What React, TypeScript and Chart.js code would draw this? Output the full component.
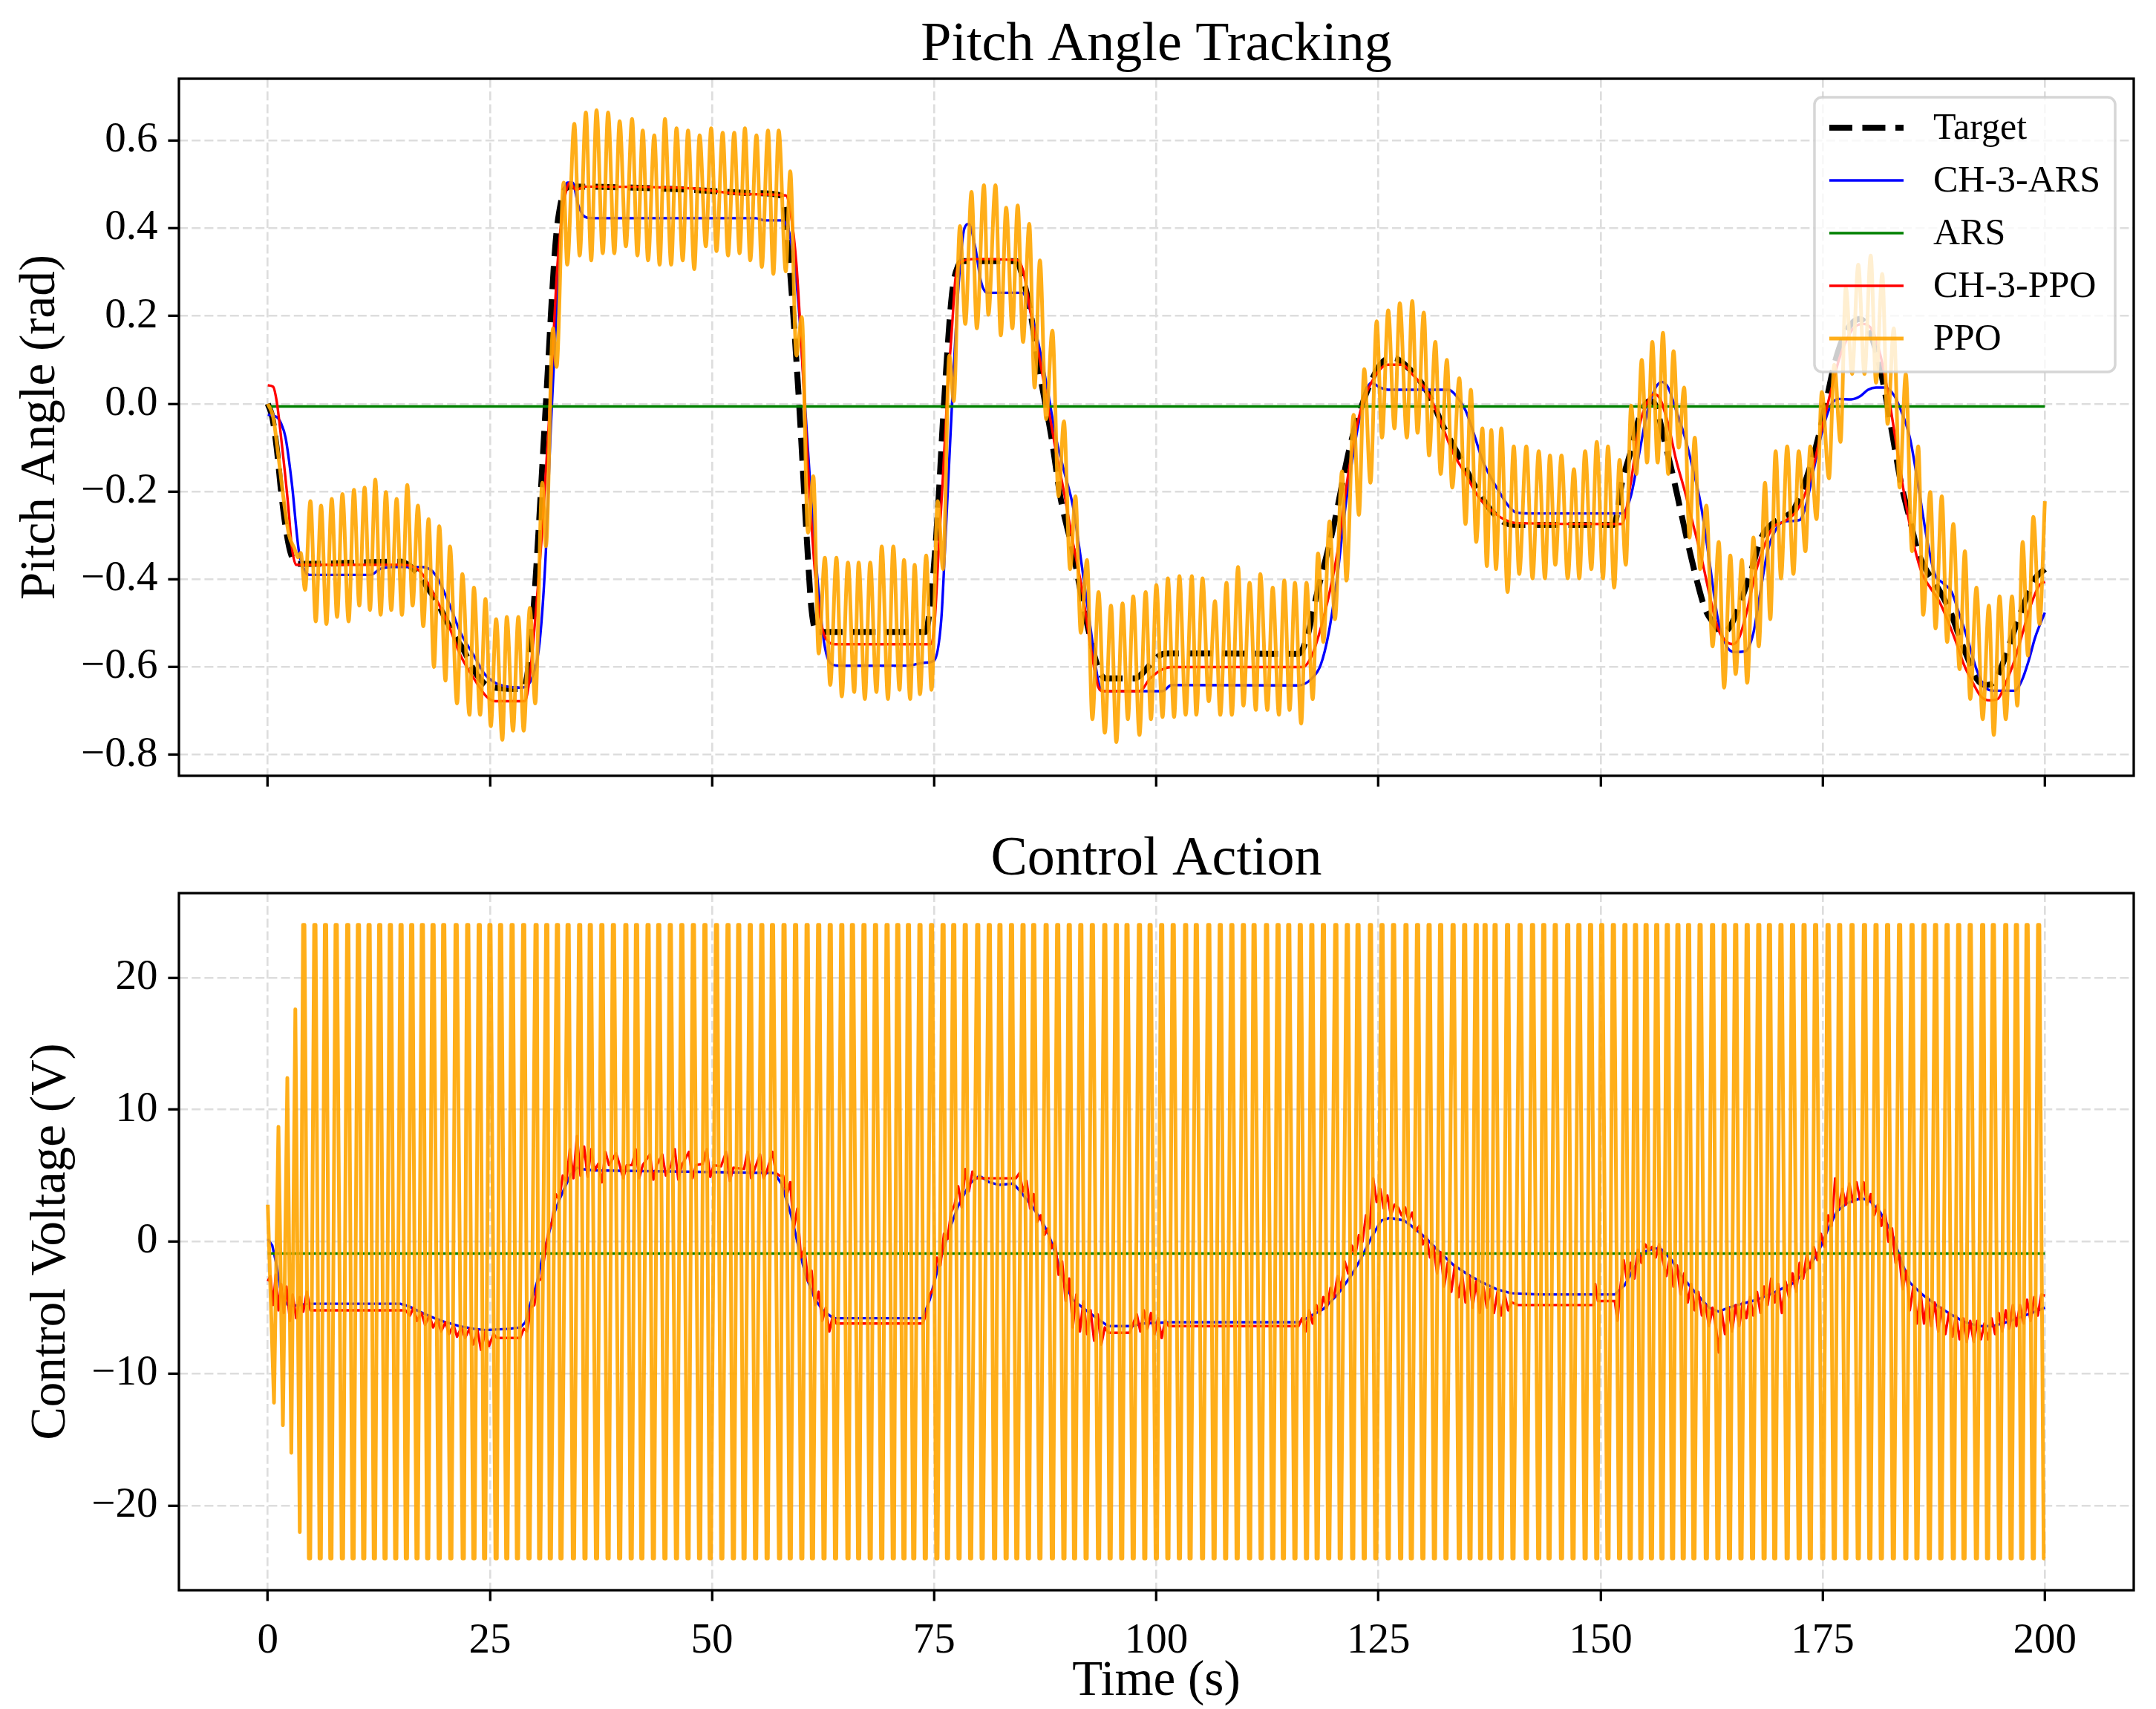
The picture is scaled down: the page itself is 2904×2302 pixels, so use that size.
import React, { useEffect, useRef } from 'react';
import { Chart, registerables } from 'chart.js';

Chart.register(...registerables);

type Pt = [number, number];

const FONT = '"Liberation Serif", "Times New Roman", Times, serif';

const timeTicks = [0, 25, 50, 75, 100, 125, 150, 175, 200];
const pitchTicks = [-0.8, -0.6, -0.4, -0.2, 0, 0.2, 0.4, 0.6];
const voltageTicks = [-20, -10, 0, 10, 20];

const targetPitch: Pt[] = [
  [0, 0], [0.5, -0.03], [1, -0.1], [1.5, -0.2], [2, -0.28], [2.5, -0.335], [3, -0.36], [3.5, -0.365],
  [15, -0.36], [16, -0.37], [17, -0.39], [18, -0.42], [19, -0.45], [20, -0.49], [21, -0.53], [22, -0.56],
  [23, -0.6], [24, -0.63], [25, -0.645], [28.6, -0.65], [29.1, -0.63], [29.6, -0.55], [30.2, -0.38],
  [31.3, 0], [32.4, 0.37], [33.0, 0.46], [33.5, 0.49], [34.2, 0.495], [45, 0.49], [50, 0.485], [55, 0.48],
  [57.7, 0.475], [58.2, 0.44], [58.9, 0.27], [59.8, 0], [60.7, -0.32], [61.2, -0.47], [61.8, -0.52],
  [74, -0.52], [74.5, -0.47], [75.3, -0.28], [76.1, 0], [77, 0.25], [77.7, 0.315], [78.3, 0.325],
  [84.3, 0.325], [84.8, 0.3], [85.8, 0.213], [86.8, 0.079], [88.2, -0.077], [89.2, -0.212], [90.6, -0.336],
  [92.1, -0.491], [93.5, -0.605], [94.3, -0.626], [97.6, -0.626], [98.4, -0.615], [99.5, -0.59],
  [100.5, -0.572], [101.3, -0.569], [116, -0.57], [117, -0.53], [118, -0.44], [119.9, -0.284],
  [121.8, -0.097], [123.3, 0.006], [125.2, 0.089], [126.6, 0.105], [128.5, 0.079], [130.5, 0.027],
  [132.4, -0.056], [134.3, -0.128], [136.2, -0.2], [138.1, -0.253], [139.6, -0.274], [141, -0.276],
  [151.5, -0.276], [152.4, -0.18], [153.4, -0.108], [154.3, -0.035], [155.5, 0.006], [156.2, -0.004],
  [157.1, -0.077], [158.1, -0.16], [159, -0.243], [159.9, -0.325], [160.9, -0.408], [161.8, -0.47],
  [162.8, -0.502], [163.7, -0.522], [164.6, -0.507], [165.6, -0.46], [167, -0.377], [168.1, -0.305],
  [169.3, -0.274], [170.7, -0.258], [171.7, -0.243], [172.6, -0.201], [173.5, -0.149], [174.5, -0.077],
  [175.4, 0.006], [176.3, 0.089], [177.3, 0.151], [178.2, 0.182], [179.2, 0.193], [180.1, 0.172],
  [181, 0.12], [182, 0.027], [182.9, -0.077], [183.8, -0.18], [184.8, -0.263], [185.7, -0.336],
  [186.6, -0.377], [187.6, -0.408], [188.5, -0.439], [189.5, -0.481], [190.4, -0.533], [191.4, -0.584],
  [192.3, -0.626], [193.3, -0.641], [194.2, -0.636], [195.2, -0.595], [196.1, -0.543], [197, -0.491],
  [198, -0.439], [198.9, -0.398], [200, -0.377],
];

const ch3ArsPitch: Pt[] = [
  [0, -0.025], [1, -0.03], [1.5, -0.045], [2, -0.077], [2.7, -0.18], [3.5, -0.336], [4.2, -0.382],
  [4.7, -0.39], [11.6, -0.39], [12.6, -0.377], [14, -0.372], [17.4, -0.372], [18.8, -0.388], [20.3, -0.45],
  [21.7, -0.522], [23.2, -0.574], [24.4, -0.616], [25.6, -0.636], [27, -0.645], [28.5, -0.647],
  [29.9, -0.616], [30.6, -0.543], [31.3, -0.336], [31.8, -0.077], [32.3, 0.13], [32.8, 0.338],
  [33.3, 0.473], [33.75, 0.504], [34.3, 0.504], [34.95, 0.452], [35.7, 0.426], [36.6, 0.423],
  [54.9, 0.423], [55.9, 0.418], [57.8, 0.418], [58.8, 0.38], [59.7, 0.234], [60.7, -0.077],
  [61.6, -0.336], [62.6, -0.543], [63.6, -0.595], [64.5, -0.597], [71.7, -0.597], [74.1, -0.59],
  [75, -0.585], [75.8, -0.491], [76.2, -0.336], [76.7, -0.128], [77.2, 0.079], [77.8, 0.286],
  [78.4, 0.4], [78.9, 0.41], [79.6, 0.359], [80.3, 0.276], [81, 0.253], [84.9, 0.253], [85.8, 0.213],
  [86.8, 0.131], [87.8, 0.027], [88.7, -0.077], [89.7, -0.16], [90.6, -0.232], [91.6, -0.367],
  [92.6, -0.512], [93.5, -0.636], [94, -0.655], [100.7, -0.655], [101.7, -0.641], [116, -0.642],
  [117.5, -0.626], [118.5, -0.595], [119.4, -0.522], [120.4, -0.388], [121.3, -0.232], [122.3, -0.097],
  [123.3, 0.006], [124.2, 0.048], [125.2, 0.037], [126.1, 0.032], [132.9, 0.032], [133.8, 0.017],
  [134.8, -0.015], [135.7, -0.066], [136.7, -0.128], [137.7, -0.17], [138.6, -0.201], [139.6, -0.232],
  [140.5, -0.248], [142, -0.25], [152.4, -0.25], [153.4, -0.211], [154.3, -0.118], [155.3, -0.015],
  [156.2, 0.037], [156.9, 0.05], [157.6, 0.037], [158.5, -0.015], [159.5, -0.077], [160.4, -0.149],
  [161.3, -0.232], [162.3, -0.367], [163.2, -0.491], [164.2, -0.553], [165.1, -0.566], [166.3, -0.564],
  [167.2, -0.522], [167.9, -0.439], [168.8, -0.336], [169.8, -0.284], [170.7, -0.268], [172.4, -0.265],
  [173.1, -0.232], [174, -0.149], [174.9, -0.066], [175.9, -0.004], [176.8, 0.011], [178.2, 0.01],
  [179.2, 0.017], [180.1, 0.032], [181, 0.037], [182, 0.037], [183.1, 0.017], [183.8, -0.015],
  [184.8, -0.077], [185.7, -0.18], [186.7, -0.305], [187.6, -0.388], [188.5, -0.408], [189.5, -0.429],
  [190.4, -0.481], [191.4, -0.543], [192.3, -0.605], [193.3, -0.647], [194.2, -0.654], [196.6, -0.654],
  [197.4, -0.631], [198.2, -0.584], [198.9, -0.533], [200, -0.476],
];

const arsPitch: Pt[] = [[0, -0.006], [200, -0.006]];

const ch3PpoPitch: Pt[] = [
  [0, 0.042], [0.6, 0.039], [1, 0.006], [1.5, -0.077], [2.3, -0.232], [2.7, -0.325], [3.2, -0.367],
  [15, -0.367], [16.4, -0.372], [17.4, -0.388], [18.8, -0.439], [20.3, -0.502], [21.7, -0.574],
  [23.2, -0.626], [24.6, -0.667], [25.6, -0.678], [28.9, -0.678], [29.4, -0.636], [30.1, -0.491],
  [30.9, -0.284], [31.6, -0.056], [32.1, 0.131], [32.5, 0.286], [33, 0.41], [33.5, 0.478], [34, 0.504],
  [34.7, 0.488], [35.7, 0.495], [47.7, 0.491], [51, 0.483], [53.5, 0.478], [58.3, 0.475], [58.8, 0.441],
  [59.5, 0.317], [60.2, 0.079], [60.9, -0.18], [61.6, -0.388], [62.3, -0.502], [63.1, -0.543],
  [63.8, -0.548], [74.6, -0.548], [75, -0.512], [75.5, -0.336], [76, -0.16], [76.5, 0.027], [77, 0.172],
  [77.4, 0.286], [78.2, 0.325], [79.6, 0.33], [84.4, 0.327], [85.1, 0.296], [85.8, 0.213], [86.8, 0.11],
  [87.8, -0.004], [88.7, -0.108], [89.7, -0.211], [90.6, -0.315], [91.6, -0.419], [92.6, -0.553],
  [93.5, -0.647], [94, -0.655], [98.1, -0.655], [99.3, -0.626], [100.7, -0.605], [101.7, -0.6],
  [116.5, -0.6], [117.5, -0.574], [118.5, -0.512], [119.4, -0.439], [120.4, -0.336], [121.3, -0.201],
  [122.3, -0.077], [123.3, 0.006], [124.2, 0.048], [125.2, 0.079], [126.1, 0.089], [127.6, 0.089],
  [129, 0.063], [130.5, 0.027], [131.9, -0.035], [133.3, -0.108], [134.8, -0.16], [136.2, -0.211],
  [137.7, -0.243], [139.1, -0.263], [140.5, -0.272], [152.4, -0.274], [153.4, -0.18], [154.3, -0.056],
  [155.3, 0.006], [156, 0.022], [156.7, 0.011], [157.6, -0.046], [158.5, -0.128], [159.5, -0.201],
  [160.4, -0.274], [161.3, -0.346], [162.3, -0.439], [163.2, -0.512], [164.2, -0.543], [164.9, -0.548],
  [165.6, -0.533], [166.5, -0.47], [167.4, -0.388], [168.4, -0.325], [169.3, -0.284], [170.7, -0.268],
  [172.1, -0.243], [173.1, -0.201], [174, -0.139], [174.9, -0.056], [175.9, 0.027], [176.8, 0.099],
  [177.8, 0.151], [178.7, 0.177], [179.6, 0.182], [180.6, 0.167], [181.5, 0.11], [182.5, 0.006],
  [183.4, -0.108], [184.3, -0.222], [185.3, -0.325], [186.2, -0.388], [187.1, -0.419], [188.1, -0.45],
  [189, -0.491], [190, -0.543], [190.9, -0.595], [191.9, -0.636], [192.8, -0.667], [193.8, -0.676],
  [194.7, -0.673], [195.6, -0.636], [196.6, -0.584], [197.5, -0.522], [198.4, -0.46], [199.4, -0.413],
  [200, -0.406],
];

// PPO pitch: successive crests and troughs of the oscillation
const ppoPitch: Pt[] = [
  [0, 0.0], [0.6, -0.03], [1.2, -0.12], [1.8, -0.22], [2.4, -0.3], [3.0, -0.33], [3.4, -0.35], [3.7, -0.34],
  [4.2, -0.424], [4.8, -0.222], [5.4, -0.496], [6.0, -0.232], [6.6, -0.502], [7.2, -0.217], [7.8, -0.486],
  [8.4, -0.206], [9.1, -0.496], [9.7, -0.196], [10.3, -0.46], [10.9, -0.191], [11.5, -0.47], [12.1, -0.173],
  [12.7, -0.481], [13.3, -0.201], [13.9, -0.47], [14.5, -0.217], [15.1, -0.481], [15.7, -0.185], [16.3, -0.46],
  [16.9, -0.232], [17.5, -0.507], [18.1, -0.263], [18.7, -0.6], [19.3, -0.279], [20.0, -0.631], [20.5, -0.325],
  [21.3, -0.683], [21.9, -0.388], [22.7, -0.709], [23.2, -0.419], [23.9, -0.709], [24.5, -0.445], [25.1, -0.735],
  [25.7, -0.491], [26.4, -0.766], [26.9, -0.486], [27.6, -0.745], [28.2, -0.486], [28.8, -0.745], [29.5, -0.465],
  [30.1, -0.683], [30.9, -0.18], [31.3, -0.325], [32.1, 0.172], [32.5, 0.084], [33.3, 0.504], [33.7, 0.317],
  [34.5, 0.638], [35.1, 0.338], [35.8, 0.664], [36.4, 0.327], [37.0, 0.669], [37.7, 0.343], [38.3, 0.664],
  [39.0, 0.343], [39.6, 0.644], [40.3, 0.359], [41.0, 0.649], [41.6, 0.338], [42.2, 0.623], [42.8, 0.327],
  [43.5, 0.612], [44.1, 0.317], [44.7, 0.649], [45.4, 0.317], [46.0, 0.628], [46.7, 0.327], [47.3, 0.623],
  [48.0, 0.307], [48.6, 0.612], [49.3, 0.359], [49.9, 0.628], [50.5, 0.348], [51.2, 0.618], [51.8, 0.338],
  [52.5, 0.618], [53.1, 0.343], [53.7, 0.628], [54.3, 0.327], [55.0, 0.612], [55.6, 0.312], [56.3, 0.623],
  [56.9, 0.296], [57.5, 0.623], [58.3, 0.302], [58.8, 0.53], [59.5, 0.11], [60.1, 0.198], [60.8, -0.294],
  [61.4, -0.165], [62.0, -0.569], [62.7, -0.351], [63.3, -0.641], [64.0, -0.351], [64.6, -0.667], [65.3, -0.362],
  [66.0, -0.657], [66.5, -0.362], [67.2, -0.673], [67.8, -0.362], [68.5, -0.657], [69.1, -0.325], [69.8, -0.673],
  [70.4, -0.325], [71.1, -0.652], [71.6, -0.356], [72.3, -0.673], [72.8, -0.367], [73.4, -0.662], [74.1, -0.346],
  [74.7, -0.652], [75.4, -0.222], [76.0, -0.377], [76.7, 0.11], [77.2, 0.006], [77.9, 0.405], [78.5, 0.182],
  [79.2, 0.483], [79.8, 0.172], [80.6, 0.498], [81.1, 0.203], [81.9, 0.498], [82.5, 0.156], [83.1, 0.447],
  [83.8, 0.172], [84.4, 0.452], [85.0, 0.141], [85.7, 0.41], [86.3, 0.037], [86.9, 0.327], [87.6, -0.035],
  [88.3, 0.167], [89.0, -0.211], [89.6, -0.04], [90.3, -0.377], [90.9, -0.211], [91.5, -0.522], [92.2, -0.356],
  [92.8, -0.719], [93.5, -0.429], [94.2, -0.75], [94.9, -0.46], [95.5, -0.771], [96.2, -0.455], [96.8, -0.719],
  [97.4, -0.439], [98.1, -0.755], [98.8, -0.429], [99.4, -0.719], [100.0, -0.413], [100.7, -0.714], [101.3, -0.398],
  [102.0, -0.714], [102.6, -0.393], [103.3, -0.709], [104.0, -0.393], [104.5, -0.709], [105.2, -0.398], [105.9, -0.678],
  [106.6, -0.45], [107.2, -0.709], [107.9, -0.408], [108.5, -0.709], [109.2, -0.372], [109.8, -0.688], [110.5, -0.408],
  [111.2, -0.698], [111.7, -0.388], [112.5, -0.698], [113.1, -0.419], [113.8, -0.709], [114.4, -0.403], [115.0, -0.698],
  [115.6, -0.408], [116.3, -0.729], [116.9, -0.408], [117.6, -0.673], [118.2, -0.341], [118.8, -0.543], [119.5, -0.268],
  [120.1, -0.491], [120.9, -0.154], [121.4, -0.403], [122.2, -0.025], [122.8, -0.253], [123.4, 0.079], [124.1, -0.18],
  [124.8, 0.188], [125.4, -0.077], [126.1, 0.213], [126.8, -0.056], [127.4, 0.229], [128.2, -0.077], [128.8, 0.234],
  [129.4, -0.066], [130.1, 0.208], [130.7, -0.118], [131.4, 0.141], [132.0, -0.16], [132.7, 0.1], [133.3, -0.191],
  [134.1, 0.058], [134.8, -0.274], [135.4, 0.032], [136.0, -0.315], [136.7, -0.056], [137.2, -0.37], [137.7, -0.06],
  [138.23, -0.377], [138.83, -0.056], [139.53, -0.429], [140.23, -0.097], [140.84, -0.388], [141.64, -0.097],
  [142.34, -0.398], [143.04, -0.108], [143.74, -0.398], [144.3, -0.118], [144.9, -0.367], [145.6, -0.118],
  [146.3, -0.398], [147.0, -0.149], [147.6, -0.398], [148.26, -0.108], [148.96, -0.377], [149.57, -0.087],
  [150.27, -0.398], [150.83, -0.097], [151.53, -0.419], [152.14, -0.128], [152.84, -0.367], [153.44, -0.004],
  [154.03, -0.16], [154.63, 0.1], [155.23, -0.134], [155.82, 0.141], [156.42, -0.134], [157.02, 0.162],
  [157.61, -0.16], [158.21, 0.12], [158.8, -0.1], [159.4, 0.037], [160.0, -0.305], [160.6, -0.077], [161.2, -0.377],
  [161.9, -0.232], [162.6, -0.553], [163.3, -0.315], [163.9, -0.647], [164.6, -0.346], [165.2, -0.616], [165.9, -0.356],
  [166.5, -0.636], [167.2, -0.305], [167.8, -0.553], [168.5, -0.18], [169.1, -0.491], [169.7, -0.108], [170.3, -0.398],
  [171.0, -0.097], [171.7, -0.388], [172.3, -0.108], [173.05, -0.336], [173.6, -0.097], [174.3, -0.263], [174.9, 0.027],
  [175.7, -0.17], [176.3, 0.089], [177.0, -0.087], [177.6, 0.265], [178.3, 0.068], [179.0, 0.317], [179.7, 0.068],
  [180.4, 0.338], [181.0, 0.048], [181.7, 0.296], [182.3, -0.046], [183.0, 0.172], [183.65, -0.191], [184.35, 0.068],
  [185.05, -0.336], [185.75, -0.097], [186.3, -0.481], [187.1, -0.201], [187.7, -0.512], [188.4, -0.211], [189.0, -0.543],
  [189.7, -0.274], [190.4, -0.605], [191.0, -0.336], [191.6, -0.673], [192.3, -0.419], [193.0, -0.719], [193.7, -0.46],
  [194.25, -0.755], [194.9, -0.439], [195.6, -0.719], [196.3, -0.439], [196.9, -0.688], [197.5, -0.315], [198.1, -0.574],
  [198.7, -0.258], [199.4, -0.502], [200.0, -0.222],
];

const ch3ArsVoltage: Pt[] = [
  [0, 0.19], [0.5, -0.28], [1, -1.8], [1.4, -3.5], [1.9, -4.5], [2.4, -4.9], [4.6, -4.7], [14.9, -4.7],
  [15.9, -4.9], [17.1, -5.3], [18.4, -5.7], [20, -6.1], [21.6, -6.4], [23.2, -6.6], [24.5, -6.7], [27.1, -6.6],
  [28.4, -6.5], [29, -6.1], [29.6, -4.6], [30.3, -3.1], [30.9, -1.2], [31.6, 0.5], [32.2, 2.1], [32.9, 3.3],
  [33.5, 4.2], [34.1, 5.1], [34.8, 5.6], [35.4, 5.5], [36.7, 5.4], [57, 5.2], [57.8, 4.4], [58.9, 2.0],
  [59.7, -0.3], [60.5, -2.5], [61.6, -4.4], [62.6, -5.3], [63.7, -5.8], [73.7, -5.8], [74.5, -4.4],
  [75.5, -1.8], [76.6, 0.7], [77.7, 2.7], [79, 4.4], [80.1, 5.0], [81.2, 4.5], [82.3, 4.3], [83.9, 4.4],
  [84.7, 3.8], [86, 2.7], [87.1, 1.6], [87.9, 0.5], [88.7, -1.0], [89.5, -2.9], [90.6, -4.4], [91.9, -5.1],
  [93.5, -5.9], [94.6, -6.4], [97.3, -6.4], [98.4, -6.2], [101.6, -6.1], [116.1, -6.1], [117.2, -5.7],
  [118.8, -5.1], [120.4, -4.0], [122, -2.5], [123.1, -1.2], [124.2, 0.3], [125.3, 1.6], [126.3, 1.8],
  [127.9, 1.6], [128.7, 1.2], [130.3, 0.3], [131.9, -0.8], [133.5, -1.8], [135.1, -2.5], [136.7, -3.1],
  [138.3, -3.6], [139.9, -3.9], [143.1, -4.0], [151.6, -4.0], [152.7, -3.3], [153.7, -2.1], [154.8, -0.8],
  [156.1, -0.5], [156.9, -0.6], [158, -1.4], [159, -2.5], [160.6, -3.8], [162.2, -5.0], [163.3, -5.3],
  [164.4, -5.0], [165.4, -4.8], [167.6, -4.4], [169.7, -3.8], [171.8, -3.1], [173.4, -2.0], [174.5, -0.8],
  [175.5, 0.8], [176.6, 2.3], [177.7, 2.9], [179.3, 3.3], [180.3, 3.1], [181.4, 2.3], [182.7, 0.8],
  [183.8, -1.4], [184.8, -3.1], [186.2, -4.0], [187.8, -4.8], [189.4, -5.5], [191, -6.1], [192.6, -6.4],
  [194.1, -6.4], [195.7, -6.1], [197.3, -5.7], [198.9, -5.3], [200, -5.0],
];

const arsVoltage: Pt[] = [[0, -0.9], [200, -0.9]];

const ch3PpoVoltage: Pt[] = [
  [0, -3.0], [0.3, -2.6], [0.6, -4.8], [0.9, -2.5], [1.2, -5.2], [1.5, -3.2], [1.8, -5.4], [2.1, -3.4],
  [2.5, -6.0], [2.8, -4.0], [3.2, -5.8], [3.6, -4.2], [4.0, -5.3], [4.4, -3.8], [4.8, -5.2], [5.2, -5.2],
  [15.5, -5.2], [16, -5.6], [16.4, -5.0], [16.8, -6.0], [17.3, -5.4], [17.7, -6.3], [18.2, -5.6], [18.6, -6.5],
  [19.1, -5.9], [19.5, -6.8], [20, -6.1], [20.4, -7.0], [20.9, -6.3], [21.3, -7.2], [21.8, -6.5], [22.2, -7.3],
  [22.7, -6.6], [23.1, -7.8], [23.6, -6.7], [24, -8.2], [24.5, -6.8], [24.9, -7.9], [25.4, -7.0], [25.8, -7.3],
  [28.4, -7.3], [28.8, -6.6], [29.2, -6.8], [29.6, -5.0], [30, -4.8], [30.4, -3.0], [30.8, -2.8], [31.2, -0.8],
  [31.6, 0.8], [32, 1.5], [32.4, 3.6], [32.8, 3.2], [33.2, 5.0], [33.6, 4.6], [34, 7.0], [34.4, 4.8], [34.8, 8.0],
  [35.2, 5.0], [35.6, 7.2], [36, 4.9], [36.4, 7.0], [36.8, 5.4], [37.2, 5.9], [37.6, 4.5], [38, 6.8], [38.4, 5.8],
  [39.2, 6.7], [39.6, 5.8], [40, 4.8], [40.4, 5.8], [41, 5.8], [41.4, 7.0], [41.8, 4.8], [42.2, 5.8], [43, 6.6],
  [43.4, 4.7], [43.8, 5.8], [44.4, 6.6], [44.8, 5.0], [45.4, 5.8], [45.8, 7.0], [46.2, 4.7], [46.6, 5.8],
  [47.4, 6.8], [47.8, 4.8], [48.2, 5.8], [49, 5.9], [49.4, 7.0], [49.8, 4.9], [50.2, 5.8], [51, 5.7], [51.6, 6.8],
  [52, 4.6], [52.4, 5.6], [53.6, 5.5], [54, 6.8], [54.4, 4.8], [54.8, 5.5], [55.4, 6.6], [55.8, 4.8], [56.2, 5.4],
  [56.8, 6.8], [57.2, 5.2], [57.6, 5.0], [58.0, 5.0], [58.4, 3.5], [58.8, 4.5], [59.2, 1.0], [59.6, 2.5],
  [60.0, -1.2], [60.4, -0.5], [60.8, -3.0], [61.2, -2.2], [61.6, -4.8], [62, -3.8], [62.4, -6.0], [62.8, -5.0],
  [63.2, -6.8], [63.6, -5.6], [64, -6.2], [73.7, -6.2], [74.1, -5.5], [74.5, -4.0], [74.9, -3.6], [75.3, -1.2],
  [75.7, -1.8], [76.1, 0.6], [76.5, 0.2], [76.9, 2.2], [77.3, 2.8], [77.7, 4.2], [78.1, 2.6], [78.5, 5.5],
  [78.9, 3.8], [79.3, 5.3], [79.7, 4.8], [80.3, 4.8], [84.2, 4.8], [84.6, 5.2], [85, 3.8], [85.4, 4.6],
  [85.8, 2.5], [86.2, 3.6], [86.6, 1.5], [87, 2.0], [87.4, 0.5], [87.8, 1.0], [88.2, -0.5], [88.6, 0.0],
  [89, -2.5], [89.4, -1.5], [89.8, -4.5], [90.2, -2.8], [90.6, -6.5], [91, -4.0], [91.4, -6.8], [91.8, -4.5],
  [92.2, -7.0], [92.6, -5.2], [93, -7.5], [93.4, -5.5], [93.8, -7.8], [94.2, -6.5], [94.6, -6.9], [97, -6.9],
  [97.4, -6.2], [97.8, -5.5], [98.2, -6.8], [98.6, -5.2], [99, -6.6], [99.4, -5.4], [99.8, -7.0], [100.2, -5.8],
  [100.6, -7.3], [101, -6.0], [101.4, -6.4], [116, -6.4], [116.4, -5.8], [116.8, -6.8], [117.2, -5.2],
  [117.6, -6.2], [118, -4.8], [118.4, -5.5], [118.8, -4.2], [119.2, -5.0], [119.6, -3.5], [120, -4.2],
  [120.4, -2.6], [120.8, -3.5], [121.2, -1.5], [121.6, -2.4], [122, -0.3], [122.4, -1.0], [122.8, 0.5],
  [123.2, 0.0], [123.6, 2.0], [124, 1.0], [124.4, 4.8], [124.8, 3.0], [125.2, 4.0], [125.6, 2.5], [126, 3.5],
  [126.4, 2.0], [126.8, 2.8], [127.2, 2.6], [127.6, 2.0], [128, 2.6], [128.4, 1.6], [128.8, 2.2], [129.2, 0.8],
  [129.6, 1.2], [130, -0.2], [130.4, 0.4], [130.8, -1.2], [131.2, -0.4], [131.6, -2.4], [132, -0.8],
  [132.4, -3.4], [132.8, -1.6], [133.2, -3.8], [133.6, -1.8], [134, -4.2], [134.4, -2.4], [134.8, -4.6],
  [135.2, -2.6], [135.6, -5.0], [136, -3.0], [136.4, -5.4], [136.8, -3.4], [137.2, -5.0], [137.6, -3.6],
  [138, -5.4], [138.4, -3.8], [138.8, -5.6], [139.2, -4.0], [139.6, -5.2], [140, -4.6], [140.7, -4.8],
  [149.2, -4.8], [149.4, -3.2], [149.7, -4.5], [151.6, -4.5], [151.9, -6.0], [152.2, -3.6], [152.6, -1.4],
  [153, -3.0], [153.4, -1.6], [153.8, -2.8], [154.2, -0.6], [154.6, -1.6], [155, -0.2], [155.4, -0.6],
  [155.8, -0.4], [156.2, -1.2], [156.6, -0.2], [157, -1.4], [157.4, -2.6], [157.8, -1.2], [158.2, -3.4],
  [158.6, -1.8], [159, -4.0], [159.4, -2.4], [159.8, -4.6], [160.2, -3.2], [160.6, -5.2], [161, -3.8],
  [161.4, -5.6], [161.8, -4.8], [162.2, -6.4], [162.6, -5.0], [163, -6.6], [163.3, -8.4], [163.6, -5.2],
  [164, -7.0], [164.4, -5.0], [164.8, -6.8], [165.2, -4.8], [165.6, -6.4], [166, -4.6], [166.4, -5.8],
  [166.8, -4.2], [167.2, -5.6], [167.6, -3.8], [168, -5.4], [168.4, -3.4], [168.8, -4.8], [169.2, -2.8],
  [169.6, -4.6], [170, -3.2], [170.4, -5.4], [170.8, -3.0], [171.2, -4.2], [171.6, -2.4], [172, -3.8],
  [172.4, -1.6], [172.8, -2.8], [173.2, -1.0], [173.6, -2.0], [174, -0.4], [174.4, -1.4], [174.8, 0.6],
  [175.2, -0.4], [175.6, 2.0], [176, 1.2], [176.4, 4.8], [176.8, 2.6], [177.2, 4.0], [177.6, 2.8], [178, 4.4],
  [178.4, 3.0], [178.8, 4.5], [179.2, 3.2], [179.6, 4.5], [180, 2.8], [180.4, 3.6], [180.8, 2.0], [181.2, 2.8],
  [181.6, 1.2], [182, 2.4], [182.4, 0.0], [182.8, 1.0], [183.2, -1.6], [183.6, -1.0], [184, -3.6], [184.4, -2.2],
  [184.8, -5.2], [185.2, -3.4], [185.6, -6.2], [186, -3.8], [186.4, -6.2], [186.8, -4.2], [187.2, -6.4],
  [187.6, -4.6], [188, -6.8], [188.4, -5.0], [188.8, -7.0], [189.2, -5.4], [189.6, -7.2], [190, -5.6],
  [190.4, -7.4], [190.8, -5.8], [191.2, -7.6], [191.6, -6.0], [192, -7.6], [192.4, -6.0], [192.8, -7.4],
  [193.2, -6.2], [193.6, -7.4], [194, -5.8], [194.4, -7.0], [194.8, -5.4], [195.2, -6.8], [195.6, -5.2],
  [196, -6.6], [196.4, -4.8], [196.8, -6.4], [197.2, -4.8], [197.6, -6.2], [198, -4.4], [198.4, -6.0],
  [198.8, -4.2], [199.2, -5.6], [199.6, -4.0], [200, -4.1],
];

// PPO voltage: opening swings before the actuator saturates
const ppoVoltageLead: Pt[] = [
  [0, 2.8], [0.7, -12.2], [1.2, 8.7], [1.7, -13.9], [2.2, 12.4], [2.65, -16.0], [3.1, 17.6], [3.6, -22.0],
];
// then saturated bang-bang: times (s) of successive +24 / -24 turns, starting at +24
const ppoVoltageTurns: number[] = [
  4.05, 4.7, 5.3, 5.9, 6.5, 7.1, 7.7, 8.4, 9.0, 9.6, 10.2, 10.8, 11.4, 12.0, 12.6, 13.2, 13.8, 14.4, 15.0,
  15.6, 16.2, 16.8, 17.4, 18.0, 18.6, 19.3, 19.8, 20.6, 21.2, 22.0, 22.5, 23.2, 23.8, 24.4, 25.0, 25.7, 26.2,
  26.9, 27.5, 28.1, 28.8, 29.4, 30.2, 30.6, 31.4, 31.8, 32.6, 33.0, 33.8, 34.4, 35.1, 35.7, 36.3, 37.0, 37.6,
  38.3, 38.9, 39.6, 40.3, 40.9, 41.5, 42.1, 42.8, 43.4, 44.0, 44.7, 45.3, 46.0, 46.6, 47.3, 47.9, 48.6, 49.2,
  49.8, 50.5, 51.1, 51.8, 52.4, 53.0, 53.6, 54.3, 54.9, 55.6, 56.2, 56.8, 57.6, 58.1, 58.8, 59.4, 60.1, 60.7,
  61.3, 62.0, 62.6, 63.3, 63.9, 64.6, 65.3, 65.8, 66.5, 67.1, 67.8, 68.4, 69.1, 69.7, 70.4, 70.9, 71.6, 72.1,
  72.7, 73.4, 74.0, 74.7, 75.3, 76.0, 76.5, 77.2, 77.8, 78.5, 79.1, 79.9, 80.4, 81.2, 81.8, 82.4, 83.1, 83.7,
  84.3, 85.0, 85.6, 86.2, 86.9, 87.6, 88.3, 88.9, 89.6, 90.2, 90.8, 91.5, 92.1, 92.8, 93.5, 94.2, 94.8, 95.5,
  96.1, 96.7, 97.4, 98.1, 98.7, 99.3, 100.0, 100.6, 101.3, 101.9, 102.6, 103.3, 103.8, 104.5, 105.2, 105.9,
  106.5, 107.2, 107.8, 108.5, 109.1, 109.8, 110.5, 111.0, 111.8, 112.4, 113.1, 113.7, 114.3, 114.9, 115.6,
  116.2, 116.9, 117.5, 118.1, 118.8, 119.4, 120.2, 120.7, 121.5, 122.1, 122.7, 123.4, 124.1, 124.7, 125.4,
  126.1, 126.7, 127.5, 128.1, 128.7, 129.4, 130.0, 130.7, 131.3, 132.0, 132.6, 133.4, 134.1, 134.7, 135.3,
  136.0, 136.5, 137.0, 137.53, 138.13, 138.83, 139.53, 140.14, 140.94, 141.64, 142.34, 143.04, 143.6, 144.2,
  144.9, 145.6, 146.3, 146.9, 147.56, 148.26, 148.87, 149.57, 150.13, 150.83, 151.44, 152.14, 152.74, 153.33,
  153.93, 154.53, 155.12, 155.72, 156.32, 156.91, 157.51, 158.1, 158.7, 159.3, 159.9, 160.5, 161.2, 161.9,
  162.6, 163.2, 163.9, 164.5, 165.2, 165.8, 166.5, 167.1, 167.8, 168.4, 169.0, 169.6, 170.3, 171.0, 171.6,
  172.35, 172.9, 173.6, 174.2, 175.0, 175.6, 176.3, 176.9, 177.6, 178.3, 179.0, 179.7, 180.3, 181.0, 181.6,
  182.3, 182.95, 183.65, 184.35, 185.05, 185.6, 186.4, 187.0, 187.7, 188.3, 189.0, 189.7, 190.3, 190.9, 191.6,
  192.3, 193.0, 193.55, 194.2, 194.9, 195.6, 196.2, 196.8, 197.4, 198.0, 198.7, 199.3, 199.95,
];
const PPO_LIMIT = 24;
const TURN_HOLD = 0.08;

function buildPpoVoltage(): Pt[] {
  const pts: Pt[] = ppoVoltageLead.slice();
  ppoVoltageTurns.forEach((t, i) => {
    const level = i % 2 === 0 ? PPO_LIMIT : -PPO_LIMIT;
    pts.push([Math.max(t - TURN_HOLD, 3.95), level], [Math.min(t + TURN_HOLD, 200), level]);
  });
  return pts;
}

const toXY = (arr: Pt[]) => arr.map(([x, y]) => ({ x, y }));
const minusFmt = (s: string) => s.replace('-', '\u2212');

const TICK_PX = 57;
const LABEL_PX = 67;
const TITLE_PX = 74;
const LEGEND_PX = 50;
const SPINE_W = 3.3;
const GRID_COLOR = '#dddddd';
const ORANGE = 'rgba(255,165,0,0.9)';
const THIN = 3.4;
const PPO_W = 5.0;

const legendEntries = [
  { label: 'Target', color: '#000000', width: 8, dash: [31, 13.5] },
  { label: 'CH-3-ARS', color: '#0000ff', width: THIN, dash: [] as number[] },
  { label: 'ARS', color: '#008000', width: THIN, dash: [] as number[] },
  { label: 'CH-3-PPO', color: '#ff0000', width: THIN, dash: [] as number[] },
  { label: 'PPO', color: ORANGE, width: PPO_W, dash: [] as number[] },
];

function decorPlugin(title: string, showLegend: boolean) {
  return {
    id: 'decor',
    afterDatasetsDraw(chart: any) {
      const { ctx, chartArea: a } = chart;
      ctx.save();
      ctx.setLineDash([]);
      ctx.strokeStyle = '#000';
      ctx.lineWidth = SPINE_W;
      ctx.strokeRect(a.left, a.top, a.right - a.left, a.bottom - a.top);

      ctx.fillStyle = '#000';
      ctx.font = `${TITLE_PX}px ${FONT}`;
      ctx.textAlign = 'center';
      ctx.textBaseline = 'alphabetic';
      ctx.fillText(title, (a.left + a.right) / 2, a.top - 25);

      if (showLegend) {
        ctx.font = `${LEGEND_PX}px ${FONT}`;
        const textW = Math.max(...legendEntries.map((e) => ctx.measureText(e.label).width));
        const pad = 20;
        const w = pad + 100 + 40 + textW + pad;
        const h = 370;
        const right = a.right - 25;
        const top = a.top + 25;
        const left = right - w;
        const r = 10;
        ctx.beginPath();
        ctx.moveTo(left + r, top);
        ctx.arcTo(right, top, right, top + h, r);
        ctx.arcTo(right, top + h, left, top + h, r);
        ctx.arcTo(left, top + h, left, top, r);
        ctx.arcTo(left, top, right, top, r);
        ctx.closePath();
        ctx.fillStyle = 'rgba(255,255,255,0.8)';
        ctx.fill();
        ctx.strokeStyle = 'rgba(204,204,204,0.8)';
        ctx.lineWidth = 3.5;
        ctx.stroke();

        legendEntries.forEach((e, i) => {
          const cy = top + 41 + i * 71;
          ctx.beginPath();
          ctx.setLineDash(e.dash);
          ctx.lineCap = 'butt';
          ctx.strokeStyle = e.color;
          ctx.lineWidth = e.width;
          ctx.moveTo(left + pad, cy);
          ctx.lineTo(left + pad + 100, cy);
          ctx.stroke();
          ctx.setLineDash([]);
          ctx.fillStyle = '#000';
          ctx.textAlign = 'left';
          ctx.textBaseline = 'middle';
          ctx.fillText(e.label, left + pad + 140, cy + 2);
        });
      }
      ctx.restore();
    },
  };
}

function xScale(showLabels: boolean, height: number) {
  return {
    type: 'linear',
    min: -10,
    max: 210,
    afterBuildTicks: (s: any) => {
      s.ticks = timeTicks.map((v) => ({ value: v }));
    },
    afterFit: (s: any) => {
      s.height = height;
    },
    grid: {
      color: GRID_COLOR,
      lineWidth: 2.6,
      tickLength: 14.6,
      tickColor: '#000',
      tickWidth: SPINE_W,
    },
    border: { display: false, dash: [12, 5.2] },
    ticks: {
      display: showLabels,
      color: '#000',
      font: { family: FONT, size: TICK_PX },
      padding: 20,
      maxRotation: 0,
      autoSkip: false,
      callback: (v: number) => String(v),
    },
    title: showLabels
      ? {
          display: true,
          text: 'Time (s)',
          color: '#000',
          font: { family: FONT, size: LABEL_PX, lineHeight: 1.0 },
          padding: { top: 0, bottom: 3 },
        }
      : { display: false },
  };
}

function yScale(min: number, max: number, ticks: number[], fmt: (v: number) => string, label: string, labelPad: number) {
  return {
    type: 'linear',
    min,
    max,
    afterBuildTicks: (s: any) => {
      s.ticks = ticks.map((v) => ({ value: v }));
    },
    afterFit: (s: any) => {
      s.width = 241;
    },
    grid: {
      color: GRID_COLOR,
      lineWidth: 2.6,
      tickLength: 14.6,
      tickColor: '#000',
      tickWidth: SPINE_W,
    },
    border: { display: false, dash: [12, 5.2] },
    ticks: {
      color: '#000',
      font: { family: FONT, size: TICK_PX },
      padding: 14,
      autoSkip: false,
      callback: (v: number) => fmt(v),
    },
    title: {
      display: true,
      text: label,
      color: '#000',
      font: { family: FONT, size: LABEL_PX },
      padding: { top: labelPad, bottom: 0 },
    },
  };
}

function lineSet(label: string, data: Pt[], color: string, width: number, order: number, smooth: boolean, dash: number[] = []) {
  return {
    label,
    data: toXY(data),
    borderColor: color,
    backgroundColor: color,
    borderWidth: width,
    borderDash: dash,
    borderCapStyle: 'butt',
    borderJoinStyle: 'round',
    pointRadius: 0,
    fill: false,
    order,
    tension: smooth ? 0.4 : 0,
    cubicInterpolationMode: smooth ? 'monotone' : 'default',
  };
}

const baseOptions = {
  responsive: false,
  maintainAspectRatio: false,
  animation: false,
  devicePixelRatio: 1,
  events: [],
  parsing: false,
  plugins: { legend: { display: false }, tooltip: { enabled: false }, title: { display: false } },
};

const W = 2904;
const TOP_H = 1100;
const BOTTOM_H = 1202;

export default function App() {
  const topRef = useRef<HTMLCanvasElement | null>(null);
  const bottomRef = useRef<HTMLCanvasElement | null>(null);

  useEffect(() => {
    Chart.defaults.font.family = FONT;
    Chart.defaults.color = '#000';

    const pitchFmt = (v: number) => minusFmt(v.toFixed(1));
    const voltFmt = (v: number) => minusFmt(String(Math.round(v)));

    const top = new Chart(topRef.current as HTMLCanvasElement, {
      type: 'line',
      data: {
        datasets: [
          lineSet('Target', targetPitch, '#000000', 8, 4, true, [31, 13.5]),
          lineSet('CH-3-ARS', ch3ArsPitch, '#0000ff', THIN, 3, true),
          lineSet('ARS', arsPitch, '#008000', THIN, 2, false),
          lineSet('CH-3-PPO', ch3PpoPitch, '#ff0000', THIN, 1, true),
          lineSet('PPO', ppoPitch, ORANGE, PPO_W, 0, true),
        ] as any,
      },
      options: {
        ...baseOptions,
        layout: { padding: { top: 106, left: 0, right: 30, bottom: TOP_H - 1045 - 20 } },
        scales: {
          x: xScale(false, 20),
          y: yScale(-0.848, 0.741, pitchTicks, pitchFmt, 'Pitch Angle (rad)', 15),
        },
      } as any,
      plugins: [decorPlugin('Pitch Angle Tracking', true)],
    });

    const bottom = new Chart(bottomRef.current as HTMLCanvasElement, {
      type: 'line',
      data: {
        datasets: [
          lineSet('CH-3-ARS', ch3ArsVoltage, '#0000ff', THIN, 3, false),
          lineSet('ARS', arsVoltage, '#008000', THIN, 2, false),
          lineSet('CH-3-PPO', ch3PpoVoltage, '#ff0000', THIN, 1, false),
          lineSet('PPO', buildPpoVoltage(), ORANGE, PPO_W, 0, false),
        ] as any,
      },
      options: {
        ...baseOptions,
        layout: { padding: { top: 103, left: 0, right: 30, bottom: 0 } },
        scales: {
          x: xScale(true, BOTTOM_H - 1042),
          y: yScale(-26.4, 26.4, voltageTicks, voltFmt, 'Control Voltage (V)', 29),
        },
      } as any,
      plugins: [decorPlugin('Control Action', false)],
    });

    return () => {
      top.destroy();
      bottom.destroy();
    };
  }, []);

  return (
    <div style={{ position: 'absolute', left: 0, top: 0, width: W, height: TOP_H + BOTTOM_H, background: '#fff' }}>
      <canvas ref={topRef} width={W} height={TOP_H} style={{ position: 'absolute', left: 0, top: 0, width: W, height: TOP_H }} />
      <canvas ref={bottomRef} width={W} height={BOTTOM_H} style={{ position: 'absolute', left: 0, top: TOP_H, width: W, height: BOTTOM_H }} />
    </div>
  );
}
